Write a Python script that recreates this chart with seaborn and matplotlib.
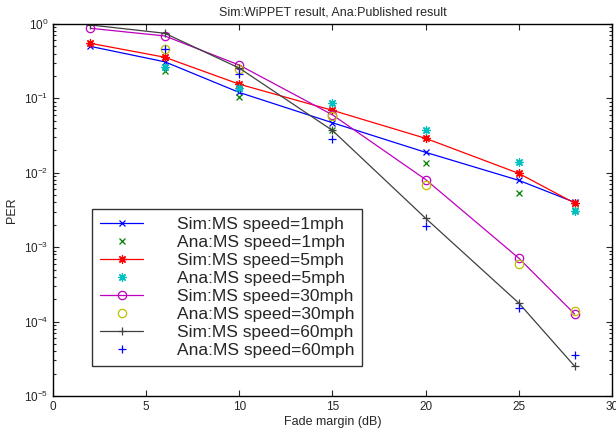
import numpy as np
import pandas as pd
import seaborn as sns
import matplotlib.pyplot as plt

fade_sim = [2, 6, 10, 15, 20, 25, 28]
fade_ana = [6, 10, 15, 20, 25, 28]

sim_1mph = [0.50, 0.31, 0.12, 0.047, 0.0188, 0.0079, 0.0040]
ana_1mph = [0.23, 0.103, 0.037, 0.0136, 0.0054, 0.0032]
sim_5mph = [0.55, 0.357, 0.155, 0.069, 0.029, 0.0098, 0.0039]
ana_5mph = [0.26, 0.137, 0.0865, 0.038, 0.0141, 0.0031]
sim_30mph = [0.875, 0.69, 0.28, 0.060, 0.0081, 0.00071, 0.000126]
ana_30mph = [0.46, 0.247, 0.058, 0.0069, 0.00060, 0.000139]
sim_60mph = [0.97, 0.75, 0.255, 0.037, 0.00244, 0.000177, 0.000025]
ana_60mph = [0.46, 0.214, 0.0285, 0.0019, 0.00015, 0.000035]

labels = ['Sim:MS speed=1mph', 'Ana:MS speed=1mph',
          'Sim:MS speed=5mph', 'Ana:MS speed=5mph',
          'Sim:MS speed=30mph', 'Ana:MS speed=30mph',
          'Sim:MS speed=60mph', 'Ana:MS speed=60mph']

sns.set_style('ticks')
plt.rcParams['font.family'] = ['Liberation Sans', 'DejaVu Sans']
plt.rcParams['xtick.direction'] = 'in'
plt.rcParams['ytick.direction'] = 'in'

fig = plt.figure(figsize=(6.16, 4.28), dpi=100)
ax = fig.add_axes([0.086, 0.075, 0.9075, 0.869])

asterisk = (8, 2, 0)
series = [
    (fade_sim, sim_1mph, 'x', 4.5, (0, 0, 1), True),
    (fade_ana, ana_1mph, 'x', 4.5, (0, 0.5, 0), False),
    (fade_sim, sim_5mph, asterisk, 6, (1, 0, 0), True),
    (fade_ana, ana_5mph, asterisk, 6, (0, 0.75, 0.75), False),
    (fade_sim, sim_30mph, 'o', 6, (0.75, 0, 0.75), True),
    (fade_ana, ana_30mph, 'o', 6, (0.75, 0.75, 0), False),
    (fade_sim, sim_60mph, '+', 6, (0.25, 0.25, 0.25), True),
    (fade_ana, ana_60mph, '+', 6, (0, 0, 1), False),
]

for (xs, vals, mk, ms, col, is_sim), lab in zip(series, labels):
    df = pd.DataFrame({'fade': xs, 'per': vals})
    sns.lineplot(
        data=df, x='fade', y='per', ax=ax, color=col, label=lab,
        marker=mk, markersize=ms,
        markerfacecolor='none', markeredgecolor=col, markeredgewidth=0.9,
        linewidth=0.9 if is_sim else 0, linestyle='-' if is_sim else '',
    )

ax.set_yscale('log')
ax.set_xlim(0, 30)
ax.set_ylim(1e-5, 1)
ax.set_xticks([0, 5, 10, 15, 20, 25, 30])
ax.set_yticks([1e-5, 1e-4, 1e-3, 1e-2, 1e-1, 1])
ax.tick_params(which='both', top=True, right=True, labelsize=8.5, width=0.8)
ax.tick_params(which='major', length=4)
ax.tick_params(which='minor', length=2)
for s in ax.spines.values():
    s.set_linewidth(1.0)
    s.set_color('black')

ax.set_xlabel('Fade margin (dB)', fontsize=9, labelpad=2)
ax.set_ylabel('PER', fontsize=9, labelpad=4)
ax.set_title('Sim:WiPPET result, Ana:Published result', fontsize=9, pad=6)

leg = ax.legend(loc='lower left', bbox_to_anchor=(0.07, 0.081), fontsize=12.5,
                frameon=True, fancybox=False, edgecolor='black',
                handlelength=2.5, handletextpad=1.95, borderpad=0.45,
                labelspacing=0.16, borderaxespad=0)
leg.get_frame().set_linewidth(1.0)

fig.savefig('out.png', dpi=100)
